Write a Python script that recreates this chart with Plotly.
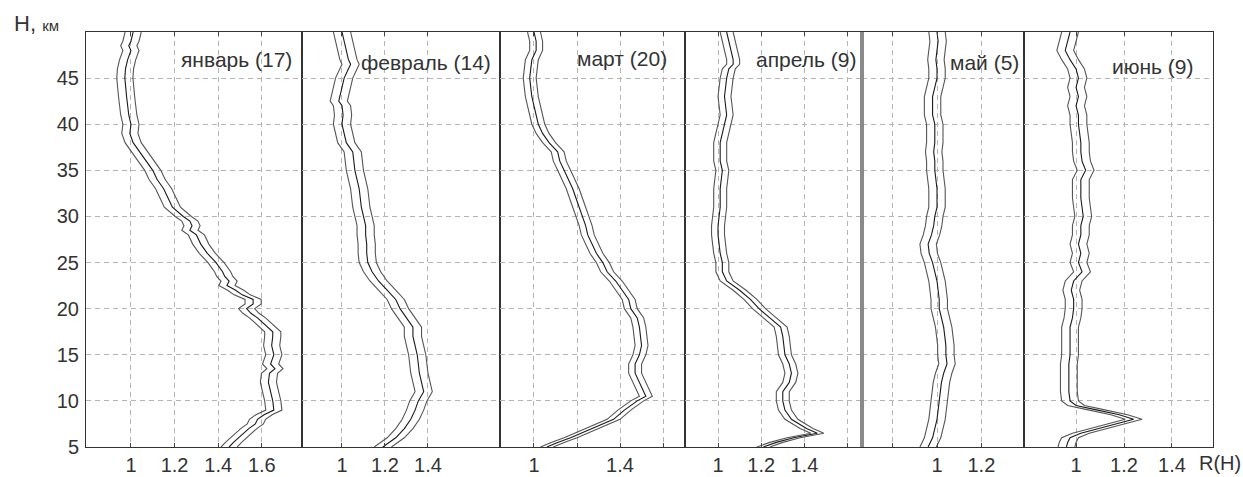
import plotly.graph_objects as go
from plotly.subplots import make_subplots

# ---------------- data ----------------
MONTHS = ["январь (17)", "февраль (14)", "март (20)", "апрель (9)", "май (5)", "июнь (9)"]

H_JAN = [50, 49, 48.5, 48, 47, 46, 45, 44, 43, 42, 41, 40, 39, 38, 37, 36, 35, 34, 33, 32, 31, 30,
         29.5, 29, 28.5, 28, 27, 26, 25, 24, 23.5, 23, 22.5, 22, 21.5, 21, 20.5, 20, 19.5, 19, 18,
         17.5, 17, 16, 15, 14, 13.5, 13, 12, 11, 10, 9, 8.5, 8, 7.5, 7, 6, 5.5, 5]
R_JAN = [1.01, 1.00, 0.99, 1.00, 0.985, 0.975, 0.972, 0.975, 0.98, 0.985, 0.99, 1.00, 0.995, 1.01,
         1.04, 1.07, 1.10, 1.12, 1.15, 1.17, 1.19, 1.24, 1.27, 1.28, 1.27, 1.30, 1.32, 1.35, 1.39,
         1.42, 1.43, 1.45, 1.44, 1.48, 1.51, 1.56, 1.56, 1.53, 1.55, 1.58, 1.63, 1.65, 1.65, 1.645,
         1.655, 1.64, 1.66, 1.635, 1.63, 1.64, 1.65, 1.655, 1.61, 1.58, 1.57, 1.54, 1.49, 1.47, 1.45]

H_FEB = [50, 49, 48, 47, 46.5, 46, 45, 44, 43, 42.5, 42, 41, 40, 39, 38, 37, 36, 35, 34, 33, 32, 31,
         30, 29, 28, 27, 26, 25, 24, 23, 22, 21, 20.5, 20, 19, 18, 17, 16, 15, 14, 13, 12, 11, 10,
         9, 8, 7, 6, 5.5, 5]
R_FEB = [1.00, 1.01, 1.02, 1.03, 1.04, 1.03, 1.01, 1.00, 0.99, 0.985, 1.00, 1.005, 1.00, 1.01, 1.02,
         1.05, 1.055, 1.06, 1.07, 1.08, 1.085, 1.09, 1.10, 1.11, 1.11, 1.115, 1.115, 1.12, 1.14,
         1.17, 1.21, 1.25, 1.26, 1.27, 1.30, 1.33, 1.33, 1.34, 1.35, 1.355, 1.36, 1.37, 1.38, 1.355,
         1.34, 1.32, 1.29, 1.25, 1.22, 1.19]

H_MAR = [50, 49, 48, 47, 46, 45, 44, 43, 42, 41, 40, 39, 38, 37, 36, 35, 34, 33, 32, 31, 30, 29, 28,
         27, 26, 25, 24, 23, 22, 21, 20, 19, 18, 17, 16, 15, 14, 13, 12, 11, 10.5, 10, 9, 8, 7, 6,
         5.5, 5]
R_MAR = [1.00, 1.01, 1.01, 0.99, 0.985, 0.98, 0.985, 0.99, 1.00, 1.01, 1.02, 1.04, 1.07, 1.11, 1.12,
         1.14, 1.16, 1.18, 1.195, 1.21, 1.225, 1.24, 1.25, 1.27, 1.29, 1.32, 1.34, 1.38, 1.41, 1.44,
         1.45, 1.48, 1.49, 1.495, 1.50, 1.49, 1.47, 1.47, 1.49, 1.51, 1.52, 1.48, 1.42, 1.37, 1.27,
         1.17, 1.11, 1.06]

H_APR = [50, 49, 48, 47, 46.5, 46, 45, 44, 43, 42, 41, 40, 39, 38, 37, 36, 35, 34, 33, 32, 31, 30,
         29, 28, 27, 26, 25, 24, 23, 22, 21, 20, 19, 18, 17, 16, 15, 14, 13, 12, 11, 10, 9, 8, 7,
         6.5, 6, 5.5, 5]
R_APR = [1.04, 1.05, 1.06, 1.07, 1.07, 1.05, 1.04, 1.035, 1.03, 1.035, 1.04, 1.03, 1.02, 1.01, 1.01,
         1.01, 1.02, 1.015, 1.01, 1.01, 1.01, 1.005, 1.00, 1.00, 1.005, 1.01, 1.02, 1.02, 1.04,
         1.10, 1.15, 1.19, 1.24, 1.29, 1.30, 1.305, 1.31, 1.33, 1.34, 1.33, 1.30, 1.30, 1.31, 1.34,
         1.41, 1.46, 1.35, 1.27, 1.21]

H_MAY = [50, 49, 48, 47, 46, 45, 44, 43, 42, 41, 40, 39, 38, 37, 36, 35, 34, 33, 32, 31, 30, 29, 28,
         27, 26, 25, 24, 23, 22, 21, 20, 19, 18, 17, 16, 15, 14, 13, 12, 11, 10, 9, 8, 7, 6, 5]
R_MAY = [1.00, 1.005, 1.00, 0.995, 1.00, 1.00, 0.99, 0.98, 0.98, 0.98, 0.99, 0.99, 0.99, 0.985,
         0.99, 0.99, 0.995, 1.00, 1.00, 1.00, 0.99, 0.985, 0.975, 0.96, 0.965, 0.98, 0.99, 1.00,
         1.005, 1.01, 1.01, 1.02, 1.03, 1.035, 1.04, 1.04, 1.045, 1.03, 1.02, 1.015, 1.01, 1.005,
         1.00, 0.99, 0.98, 0.96]

H_JUN = [50, 49, 48, 47, 46, 45, 44, 43, 42, 41, 40, 39, 38, 37, 36, 35, 34, 33, 32, 31, 30, 29, 28,
         27, 26, 25, 24, 23, 22, 21, 20, 19, 18, 17, 16, 15, 14, 13, 12, 11, 10, 9.5, 9, 8.5, 8,
         7.5, 7, 6.5, 6, 5.5, 5]
R_JUN = [0.975, 0.965, 0.955, 0.975, 1.00, 1.01, 1.00, 1.01, 1.00, 1.01, 1.01, 1.015, 1.02, 1.02,
         1.025, 1.04, 1.02, 1.02, 1.02, 1.025, 1.03, 1.02, 1.02, 1.01, 1.02, 1.01, 1.025, 0.99,
         0.98, 0.99, 0.99, 0.985, 0.975, 0.975, 0.975, 0.975, 0.97, 0.97, 0.97, 0.97, 0.975, 1.00,
         1.09, 1.18, 1.24, 1.17, 1.09, 1.02, 0.975, 0.965, 0.96]

# half-width of the band drawn around each mean profile
SPREAD = [0.037, 0.04, 0.03, 0.03, 0.037, 0.035]

HEIGHTS = [H_JAN, H_FEB, H_MAR, H_APR, H_MAY, H_JUN]
VALUES = [R_JAN, R_FEB, R_MAR, R_APR, R_MAY, R_JUN]

X_RANGES = [[0.794, 1.784], [0.814, 1.735], [0.842, 1.702], [0.847, 1.667], [0.662, 1.392], [0.783, 1.571]]
X_TICKVALS = [[1, 1.2, 1.4, 1.6], [1, 1.2, 1.4], [1, 1.2, 1.4, 1.6], [1, 1.2, 1.4, 1.6], [0.8, 1, 1.2], [1, 1.2, 1.4]]
X_TICKTEXT = [["1", "1.2", "1.4", "1.6"], ["1", "1.2", "1.4"], ["1", "", "1.4", ""],
              ["1", "1.2", "1.4", ""], ["", "1", "1.2"], ["1", "1.2", "1.4"]]
Y_TICKS = [5, 10, 15, 20, 25, 30, 35, 40, 45]

# ---------------- layout geometry ----------------
W, Hh = 1243, 477
L, R, T, B = 86, 30, 32, 30
PW = W - L - R
PH = Hh - T - B
COL_W = [216, 198, 185, 177, 162, 189]

FONT = "Liberation Sans, Arial, sans-serif"
TXT = "#333333"

fig = make_subplots(rows=1, cols=6, shared_yaxes=True, horizontal_spacing=0,
                    column_widths=COL_W)

for i in range(6):
    hs, rs, d = HEIGHTS[i], VALUES[i], SPREAD[i]
    lo = [v - d for v in rs]
    hi = [v + d for v in rs]
    for xs, col in ((lo, "#555555"), (rs, "#1a1a1a"), (hi, "#555555")):
        fig.add_trace(go.Scatter(x=xs, y=hs, mode="lines",
                                 line=dict(color=col, width=1.1),
                                 showlegend=False, hoverinfo="skip"),
                      row=1, col=i + 1)
    fig.update_xaxes(range=X_RANGES[i], tickvals=X_TICKVALS[i], ticktext=X_TICKTEXT[i],
                     showgrid=True, gridcolor="#b5b5b5", griddash="5px,4px", gridwidth=1,
                     zeroline=False, showline=True, mirror="ticks", linecolor="#333333",
                     linewidth=1.2, ticks="inside", ticklen=4, tickcolor="#444444",
                     ticklabelstandoff=0, automargin=False,
                     tickfont=dict(family=FONT, size=20, color=TXT),
                     row=1, col=i + 1)
    fig.update_yaxes(range=[5, 50], tickvals=Y_TICKS, showgrid=True, gridcolor="#b5b5b5",
                     griddash="5px,4px", gridwidth=1, zeroline=False, showline=True,
                     mirror=True, linecolor="#333333", linewidth=1, ticks="",
                     automargin=False,
                     tickfont=dict(family=FONT, size=20, color=TXT),
                     row=1, col=i + 1)

fig.update_yaxes(ticklabelstandoff=2, row=1, col=1)


def px_x(p):
    return (p - L) / PW


def px_y(p):
    return (Hh - B - p) / PH


ann = []
LABEL_POS = [(294, 60), (493, 63), (669, 58), (858, 60), (1021, 62), (1196, 66)]
for name, (xp, yp) in zip(MONTHS, LABEL_POS):
    ann.append(dict(text=name, x=px_x(xp), y=px_y(yp), xref="paper", yref="paper",
                    xanchor="right", yanchor="middle", showarrow=False,
                    font=dict(family=FONT, size=21, color=TXT)))
ann.append(dict(text="H, <span style='font-size:15px'>км</span>", x=px_x(12), y=px_y(23),
                xref="paper", yref="paper", xanchor="left", yanchor="middle", showarrow=False,
                font=dict(family=FONT, size=22, color=TXT)))
ann.append(dict(text="R(H)", x=px_x(1220), y=px_y(463), xref="paper", yref="paper",
                xanchor="center", yanchor="middle", showarrow=False,
                font=dict(family=FONT, size=20, color=TXT)))

fig.update_layout(
    width=W, height=Hh,
    margin=dict(l=L, r=R, t=T, b=B),
    paper_bgcolor="white", plot_bgcolor="white",
    annotations=ann,
    shapes=[dict(type="line", xref="paper", yref="paper",
                 x0=px_x(862), x1=px_x(862), y0=0, y1=1,
                 line=dict(color="#8a8a8a", width=4))],
)

fig.write_html("out.html", config={"displayModeBar": False},
               post_script="document.body.style.margin='0';")
